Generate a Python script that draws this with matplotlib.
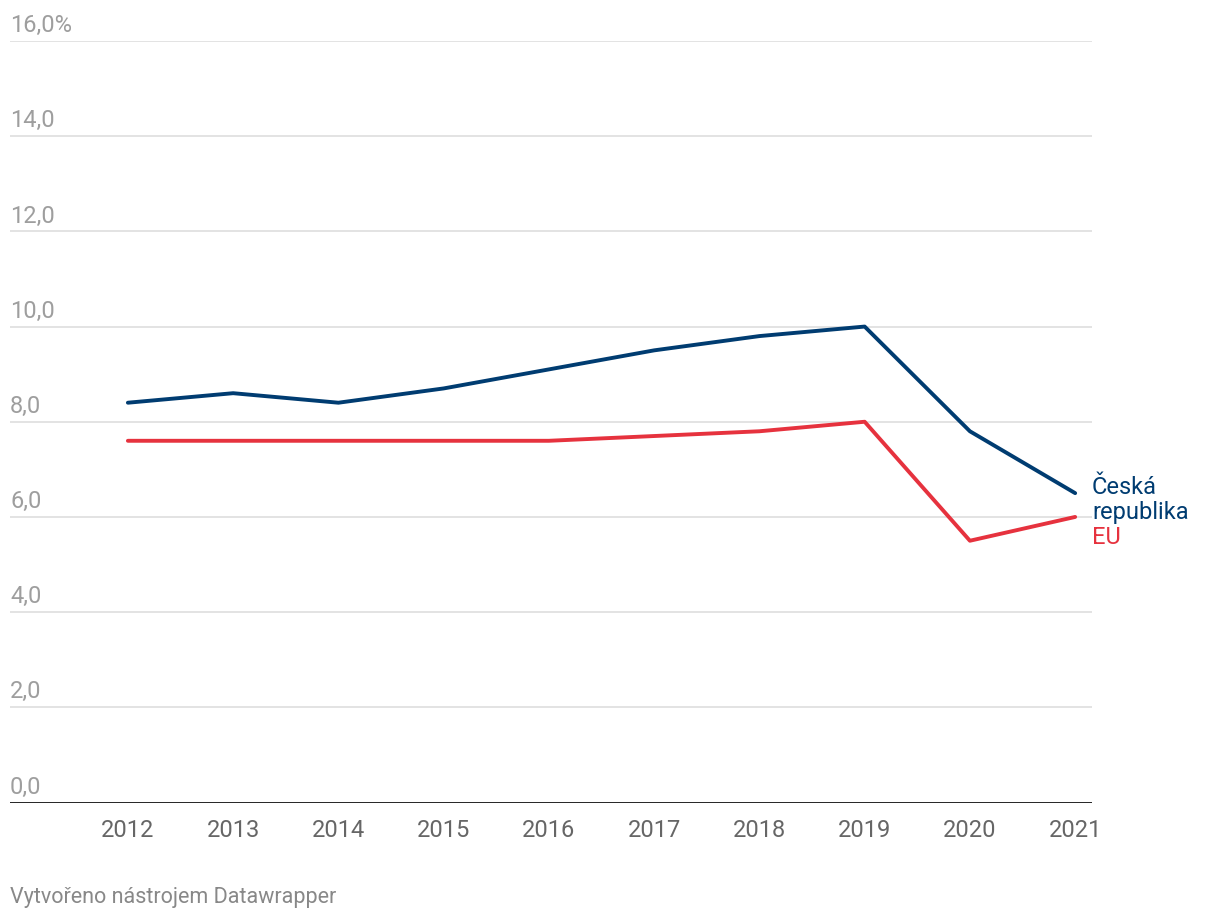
import numpy as np
import matplotlib
matplotlib.use("Agg")
import matplotlib.pyplot as plt

plt.rcParams['font.family'] = ['Roboto', 'DejaVu Sans']

years = [2012, 2013, 2014, 2015, 2016, 2017, 2018, 2019, 2020, 2021]
cz = [8.4, 8.6, 8.4, 8.7, 9.1, 9.5, 9.8, 10.0, 7.8, 6.5]
eu = [7.6, 7.6, 7.6, 7.6, 7.6, 7.7, 7.8, 8.0, 5.5, 6.0]
yticks = [0, 2, 4, 6, 8, 10, 12, 14, 16]
ylabels = ['0,0', '2,0', '4,0', '6,0', '8,0', '10,0', '12,0', '14,0', '16,0%']

cz_color = '#003c71'
eu_color = '#e6323e'

fig = plt.figure(figsize=(12.2, 9.2), dpi=100)
ax = fig.add_axes([10/1220, 1 - 803.5/920, (1092-10)/1220, (803.5-42)/920])

# gridlines
for v in yticks[1:]:
    ax.axhline(v, color='#e0e0e0', lw=1.3, zorder=0)
ax.axhline(0, color='#111111', lw=2.0, zorder=3)

ax.plot(years, eu, color=eu_color, lw=2.8, solid_capstyle='round', zorder=4)
ax.plot(years, cz, color=cz_color, lw=2.8, solid_capstyle='round', zorder=5)

ax.set_xlim(2010.88, 2021.16)
ax.set_ylim(0, 16)
for s in ax.spines.values():
    s.set_visible(False)
ax.set_yticks([])
ax.set_xticks(years)
ax.set_xticklabels([str(y) for y in years], fontsize=17, color='#666666')
ax.tick_params(axis='x', length=0, pad=11)

for v, lab in zip(yticks, ylabels):
    ax.annotate(lab, xy=(0, v), xycoords=('axes fraction', 'data'),
                xytext=(0, 3.5), textcoords='offset points',
                ha='left', va='bottom', fontsize=17, color='#9e9e9e')

ax.annotate('Česká\nrepublika', xy=(1, cz[-1]), xycoords=('axes fraction', 'data'),
            xytext=(0, -4.5), textcoords='offset points', ha='left', va='center',
            fontsize=17, color=cz_color, linespacing=1.12, annotation_clip=False)
ax.annotate('EU', xy=(1, eu[-1]), xycoords=('axes fraction', 'data'),
            xytext=(0, -14), textcoords='offset points', ha='left', va='center',
            fontsize=17, color=eu_color, annotation_clip=False)

fig.text(10/1220, 1 - 898/920, 'Vytvořeno nástrojem Datawrapper', fontsize=15.5,
         color='#888888', ha='left', va='center')

fig.savefig('out.png', dpi=100)
